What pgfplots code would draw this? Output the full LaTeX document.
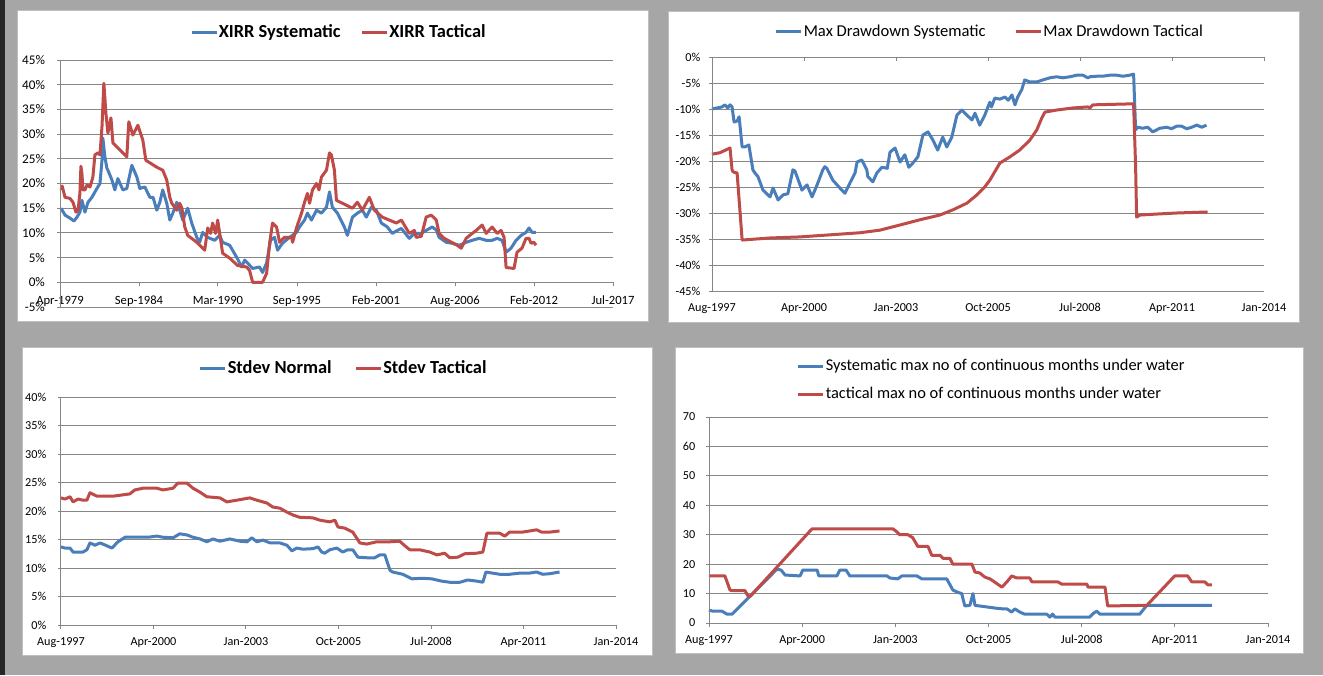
\documentclass[border=0pt]{standalone}
\usepackage{fontspec}
\setmainfont{Carlito}
\usepackage{pgfplots}
\pgfplotsset{compat=1.18}

\definecolor{xlblue}{HTML}{4A7EBB}
\definecolor{xlred}{HTML}{BE4B48}
\definecolor{gridgray}{HTML}{868686}
\definecolor{sheetgray}{HTML}{A6A6A6}
\definecolor{panelgray}{HTML}{BFBFBF}
\definecolor{strip}{HTML}{262626}

\pgfplotsset{
  xlpanel/.style={
    scale only axis, anchor=south west, clip=false,
    axis line style={draw=none},
    ymajorgrids, grid style={gridgray, line width=0.5pt},
    tick pos=left, tick align=outside, major tick length=1.5pt,
    ytick style={gridgray, line width=0.5pt},
    xtick style={draw=none},
    /pgf/number format/assume math mode=true,
    every tick label/.append style={text=black},
    legend style={draw=none, fill=none, inner sep=0pt, outer sep=0pt,
      anchor=west, nodes={inner sep=0.4pt}},
    legend cell align=left,
    legend image code/.code={\draw[##1, line width=1.5pt] (0pt,0pt) -- (12.5pt,0pt);},
    every axis plot/.append style={line width=1.5pt, line join=round},
  },
  dates97/.style={
    xmin=1997.583, xmax=2014.011,
    xtick={1997.583,2000.321,2003.059,2005.797,2008.535,2011.273,2014.011},
    xticklabels={Aug-1997,Apr-2000,Jan-2003,Oct-2005,Jul-2008,Apr-2011,Jan-2014},
  },
}

\begin{document}
\begin{tikzpicture}
\useasboundingbox (0,0) rectangle (661.5pt,-337.5pt);
\fill[sheetgray] (0,0) rectangle (661.5pt,-337.5pt);
\fill[strip] (0,0) rectangle (2.5pt,-337.5pt);
\filldraw[fill=white, draw=panelgray, line width=0.5pt] (8.5pt,-5pt) rectangle (324pt,-160.5pt);
\filldraw[fill=white, draw=panelgray, line width=0.5pt] (334pt,-5.5pt) rectangle (649.5pt,-161pt);
\filldraw[fill=white, draw=panelgray, line width=0.5pt] (11pt,-173.5pt) rectangle (326pt,-327.5pt);
\filldraw[fill=white, draw=panelgray, line width=0.5pt] (337.5pt,-173.5pt) rectangle (651.5pt,-326.5pt);

% XIRR
\begin{axis}[xlpanel,
  at={(30pt,-153.5pt)}, width=276.5pt, height=123.5pt,
  xmin=1979.25, xmax=2017.58, ymin=-5, ymax=45,
  ytick={-5,0,5,10,15,20,25,30,35,40,45},
  yticklabel={\pgfmathprintnumber{\tick}\%},
  xtick={1979.25,1984.726,1990.201,1995.677,2001.153,2006.629,2012.104,2017.58},
  xticklabels={Apr-1979,Sep-1984,Mar-1990,Sep-1995,Feb-2001,Aug-2006,Feb-2012,Jul-2017},
  xticklabel style={font=\fontsize{6.3}{7}\selectfont, yshift=10.5pt},
  yticklabel style={font=\fontsize{6.6}{7}\selectfont, xshift=-2.5pt},
  legend style={at={(0.2351,1.113)}, font=\fontsize{9.2}{11}\selectfont\bfseries, legend columns=2,
    /tikz/every even column/.append style={column sep=9.5pt}},
]
\addplot[xlblue] coordinates {
(1979.32,15.0) (1979.60,13.6) (1979.94,13.0) (1980.22,12.4) (1980.43,13.2) (1980.63,14.2)
(1980.77,16.6) (1980.98,14.2) (1981.19,16.2) (1981.46,17.2) (1981.81,19.0) (1982.02,20.0)
(1982.16,24.7) (1982.22,29.2) (1982.36,25.4) (1982.50,23.1) (1982.57,22.7) (1982.85,20.7)
(1983.05,18.7) (1983.26,21.0) (1983.61,18.7) (1983.88,19.0) (1984.23,23.7) (1984.58,21.3)
(1984.78,19.0) (1985.13,19.3) (1985.48,17.2) (1985.70,17.2) (1985.96,14.6) (1986.17,16.2)
(1986.37,18.7) (1986.65,16.0) (1986.86,12.6) (1987.07,14.0) (1987.34,16.2) (1987.55,14.6)
(1987.76,12.6) (1988.10,15.0) (1988.38,12.0) (1988.73,9.1) (1988.93,8.1) (1989.14,10.1)
(1989.49,9.1) (1989.97,8.5) (1990.32,9.5) (1990.52,8.1) (1991.01,7.5) (1991.49,5.1)
(1991.84,3.1) (1992.05,4.5) (1992.25,3.9) (1992.60,2.8) (1993.08,3.1) (1993.29,2.0)
(1993.57,3.9) (1993.84,8.5) (1994.12,9.1) (1994.33,6.5) (1994.67,7.9) (1995.16,9.1)
(1995.64,10.1) (1995.85,11.2) (1996.20,12.6) (1996.40,14.0) (1996.68,12.6) (1997.03,14.6)
(1997.37,14.0) (1997.72,15.2) (1997.93,18.3) (1998.13,15.2) (1998.48,14.0) (1998.96,11.2)
(1999.17,9.5) (1999.52,13.2) (1999.86,14.0) (2000.21,14.6) (2000.48,13.2) (2000.83,15.2)
(2001.18,14.6) (2001.52,12.0) (2001.94,11.2) (2002.28,9.9) (2002.63,10.5) (2002.91,10.9)
(2003.46,8.9) (2003.81,9.9) (2004.29,9.9) (2004.63,10.5) (2005.05,11.2) (2005.33,10.6)
(2005.53,9.1) (2006.02,8.1) (2006.43,7.9) (2006.92,7.5) (2007.40,8.1) (2007.82,8.5)
(2008.30,8.9) (2008.79,8.5) (2009.20,8.5) (2009.55,8.9) (2009.89,8.5) (2010.17,6.1)
(2010.51,6.9) (2010.86,8.5) (2011.21,9.5) (2011.55,10.1) (2011.76,11.0) (2011.97,10.1)
(2012.24,10.1)
};
\addplot[xlred] coordinates {
(1979.32,18.7) (1979.40,19.5) (1979.60,17.2) (1979.94,17.0) (1980.15,16.2) (1980.36,14.2)
(1980.50,14.6) (1980.63,18.0) (1980.70,23.5) (1980.77,22.0) (1980.84,18.7) (1980.98,18.7)
(1981.12,19.7) (1981.33,19.3) (1981.53,21.3) (1981.67,25.8) (1981.88,26.2) (1982.02,25.8)
(1982.16,31.5) (1982.29,40.3) (1982.43,34.3) (1982.57,30.2) (1982.78,33.3) (1982.92,28.2)
(1983.88,25.4) (1984.02,32.5) (1984.30,29.8) (1984.65,31.8) (1984.99,28.8) (1985.20,24.7)
(1985.96,23.3) (1986.37,22.7) (1986.65,20.7) (1986.86,17.2) (1987.00,16.0) (1987.34,14.6)
(1987.55,16.0) (1987.70,15.0) (1987.90,11.2) (1988.10,9.5) (1988.73,8.1) (1989.28,6.5)
(1989.49,11.0) (1989.69,9.9) (1989.83,12.0) (1990.04,9.9) (1990.18,12.6) (1990.39,8.5)
(1990.52,5.9) (1991.01,4.9) (1991.56,3.4) (1992.18,3.1) (1992.39,2.4) (1992.60,0.0)
(1993.29,0.0) (1993.57,1.8) (1993.78,7.9) (1993.98,12.0) (1994.26,11.2) (1994.47,8.1)
(1994.81,9.1) (1995.30,9.1) (1995.37,8.1) (1995.64,11.0) (1995.99,14.0) (1996.20,16.2)
(1996.40,18.0) (1996.55,16.0) (1996.75,18.7) (1997.03,20.0) (1997.20,18.7) (1997.37,21.3)
(1997.72,22.7) (1997.93,26.2) (1998.06,25.8) (1998.27,22.7) (1998.41,16.6) (1999.52,15.0)
(1999.86,16.2) (2000.21,14.6) (2000.69,17.2) (2001.04,14.6) (2001.59,13.2) (2002.56,12.0)
(2002.91,12.6) (2003.46,9.9) (2003.81,10.5) (2003.94,9.1) (2004.29,9.3) (2004.63,13.2)
(2004.98,13.6) (2005.33,12.6) (2005.53,9.9) (2005.88,8.9) (2006.78,7.5) (2007.06,6.9)
(2007.40,8.9) (2007.82,9.9) (2008.10,10.5) (2008.51,11.6) (2008.79,9.9) (2009.20,11.2)
(2009.55,9.9) (2009.82,10.5) (2010.03,9.1) (2010.17,3.0) (2010.72,2.8) (2010.93,6.1)
(2011.27,6.9) (2011.55,8.9) (2011.76,8.9) (2011.90,7.9) (2012.10,8.1) (2012.24,7.5)
};
\legend{XIRR Systematic, XIRR Tactical}
\draw[gridgray, line width=0.5pt] (rel axis cs:0,0) -- (rel axis cs:0,1);
\pgfplotsinvokeforeach{1979.25,1984.726,1990.201,1995.677,2001.153,2006.629,2012.104,2017.58}{
  \draw[gridgray, line width=0.5pt] (axis cs:#1,0) -- ++(0pt,-2pt);}
\end{axis}

% Max drawdown
\begin{axis}[xlpanel, dates97,
  at={(356pt,-145.5pt)}, width=276pt, height=117pt,
  ymin=-45, ymax=0,
  ytick={-45,-40,-35,-30,-25,-20,-15,-10,-5,0},
  yticklabel={\pgfmathprintnumber{\tick}\%},
  every tick label/.append style={font=\fontsize{6.1}{7}\selectfont},
  xticklabel style={yshift=-1.2pt},
  yticklabel style={xshift=-0.8pt},
  legend style={at={(0.1141,1.107)}, font=\fontsize{8.3}{10}\selectfont, legend columns=2,
    /tikz/every even column/.append style={column sep=14pt}},
]
\addplot[xlblue] coordinates {
(1997.58,-10.0) (1997.88,-9.6) (1997.97,-9.2) (1998.05,-9.8) (1998.12,-9.2) (1998.18,-9.6)
(1998.24,-12.5) (1998.33,-12.3) (1998.39,-11.5) (1998.48,-17.3) (1998.56,-17.3) (1998.68,-16.9)
(1998.80,-21.7) (1998.86,-22.3) (1998.95,-23.0) (1999.10,-25.6) (1999.31,-26.9) (1999.40,-25.2)
(1999.55,-27.5) (1999.70,-26.5) (1999.84,-26.3) (1999.99,-21.7) (2000.05,-21.9) (2000.26,-25.6)
(2000.41,-24.6) (2000.56,-26.9) (2000.71,-24.6) (2000.88,-21.7) (2000.94,-21.1) (2001.00,-21.4)
(2001.18,-23.7) (2001.39,-25.2) (2001.54,-26.2) (2001.69,-24.2) (2001.84,-22.3) (2001.90,-20.2)
(2002.04,-19.8) (2002.19,-21.7) (2002.22,-23.0) (2002.37,-24.0) (2002.49,-22.3) (2002.64,-21.2)
(2002.80,-21.4) (2002.88,-18.3) (2003.03,-17.5) (2003.18,-20.2) (2003.32,-18.8) (2003.44,-21.2)
(2003.56,-20.4) (2003.71,-19.2) (2003.86,-15.0) (2004.01,-14.4) (2004.16,-16.0) (2004.30,-17.9)
(2004.45,-15.4) (2004.57,-17.3) (2004.72,-15.4) (2004.87,-11.2) (2005.02,-10.2) (2005.17,-11.2)
(2005.32,-12.1) (2005.41,-10.8) (2005.55,-13.1) (2005.70,-11.2) (2005.85,-8.7) (2005.90,-9.6)
(2006.00,-7.9) (2006.15,-8.1) (2006.30,-7.7) (2006.40,-8.3) (2006.51,-7.3) (2006.60,-9.2)
(2006.68,-7.7) (2006.80,-6.3) (2006.89,-4.4) (2007.04,-4.8) (2007.25,-4.8) (2007.43,-4.4)
(2007.64,-4.0) (2007.84,-3.8) (2008.02,-4.0) (2008.23,-3.8) (2008.44,-3.5) (2008.62,-3.5)
(2008.77,-4.0) (2008.83,-3.8) (2009.03,-3.7) (2009.21,-3.7) (2009.42,-3.5) (2009.63,-3.5)
(2009.81,-3.7) (2010.01,-3.5) (2010.13,-3.3) (2010.19,-14.0) (2010.25,-13.5) (2010.40,-13.7)
(2010.55,-13.5) (2010.70,-14.4) (2010.91,-13.7) (2011.12,-13.5) (2011.26,-13.8) (2011.41,-13.3)
(2011.56,-13.3) (2011.71,-13.8) (2011.86,-13.5) (2012.01,-13.1) (2012.16,-13.5) (2012.30,-13.1)
};
\addplot[xlred] coordinates {
(1997.58,-18.7) (1997.82,-18.4) (1998.12,-17.5) (1998.18,-21.7) (1998.21,-22.1) (1998.33,-22.3)
(1998.48,-35.2) (1999.31,-34.8) (2000.20,-34.6) (2001.09,-34.2) (2001.98,-33.8) (2002.58,-33.3)
(2003.18,-32.3) (2003.77,-31.3) (2004.36,-30.4) (2004.75,-29.4) (2005.17,-28.1) (2005.47,-26.5)
(2005.70,-25.0) (2005.85,-23.7) (2006.15,-20.4) (2006.45,-19.2) (2006.74,-17.9) (2007.04,-16.0)
(2007.25,-14.0) (2007.40,-11.7) (2007.49,-10.6) (2007.84,-10.2) (2008.32,-9.8) (2008.77,-9.6)
(2008.83,-9.8) (2008.92,-9.2) (2009.51,-9.1) (2010.13,-9.0) (2010.19,-21.1) (2010.22,-30.8)
(2010.31,-30.4) (2010.82,-30.2) (2011.41,-30.0) (2012.33,-29.8)
};
\legend{Max Drawdown Systematic, Max Drawdown Tactical}
\draw[gridgray, line width=0.5pt] (rel axis cs:0,0) -- (rel axis cs:0,1);
\pgfplotsinvokeforeach{2000.321,2003.059,2005.797,2008.535,2011.273,2014.011}{
  \draw[gridgray, line width=0.5pt] (axis cs:#1,0) -- ++(0pt,-2pt);}
\end{axis}

% Stdev
\begin{axis}[xlpanel, dates97,
  at={(30.5pt,-312.5pt)}, width=277.5pt, height=114pt,
  ymin=0, ymax=40,
  ytick={0,5,10,15,20,25,30,35,40},
  yticklabel={\pgfmathprintnumber{\tick}\%},
  every tick label/.append style={font=\fontsize{6.1}{7}\selectfont},
  xticklabel style={yshift=-1.2pt},
  yticklabel style={xshift=-2.3pt},
  legend style={at={(0.2486,1.127)}, font=\fontsize{9.2}{11}\selectfont\bfseries, legend columns=2,
    /tikz/every even column/.append style={column sep=11pt}},
]
\addplot[xlblue] coordinates {
(1997.58,13.7) (1997.70,13.5) (1997.85,13.5) (1997.94,12.8) (1998.09,12.8) (1998.23,12.8)
(1998.35,13.2) (1998.44,14.4) (1998.59,14.0) (1998.74,14.4) (1998.90,14.0) (1999.09,13.5)
(1999.27,14.6) (1999.48,15.4) (1999.68,15.4) (1999.92,15.4) (2000.16,15.4) (2000.42,15.6)
(2000.60,15.4) (2000.90,15.3) (2001.10,16.0) (2001.31,15.8) (2001.49,15.4) (2001.70,15.1)
(2001.90,14.6) (2002.08,15.1) (2002.29,14.7) (2002.58,15.1) (2002.88,14.7) (2003.09,14.6)
(2003.23,15.3) (2003.38,14.6) (2003.56,14.9) (2003.77,14.4) (2004.06,14.4) (2004.27,14.0)
(2004.42,13.0) (2004.56,13.5) (2004.74,13.3) (2005.04,13.4) (2005.19,13.7) (2005.30,12.8)
(2005.39,12.6) (2005.54,13.2) (2005.75,13.5) (2005.92,12.8) (2006.07,13.2) (2006.22,13.2)
(2006.37,11.9) (2006.63,11.8) (2006.87,11.8) (2007.02,12.3) (2007.17,12.3) (2007.32,9.6)
(2007.40,9.3) (2007.70,8.9) (2007.97,8.1) (2008.26,8.2) (2008.56,8.1) (2008.85,7.7)
(2009.09,7.5) (2009.39,7.5) (2009.62,7.9) (2009.89,7.7) (2010.07,7.5) (2010.16,9.3)
(2010.36,9.1) (2010.57,8.9) (2010.86,8.9) (2011.16,9.1) (2011.45,9.1) (2011.66,9.3)
(2011.84,8.9) (2012.05,9.0) (2012.34,9.3)
};
\addplot[xlred] coordinates {
(1997.58,22.3) (1997.70,22.1) (1997.85,22.5) (1997.94,21.6) (1998.09,22.1) (1998.23,21.9)
(1998.35,21.9) (1998.44,23.2) (1998.65,22.6) (1999.12,22.6) (1999.62,23.0) (1999.77,23.7)
(2000.01,24.0) (2000.42,24.0) (2000.60,23.7) (2000.90,24.0) (2001.04,24.9) (2001.31,24.9)
(2001.49,24.0) (2001.70,23.3) (2001.90,22.5) (2002.29,22.3) (2002.49,21.6) (2002.79,21.9)
(2003.17,22.3) (2003.38,21.9) (2003.68,21.4) (2003.85,20.7) (2004.06,20.5) (2004.27,19.8)
(2004.45,19.3) (2004.65,18.9) (2005.04,18.8) (2005.24,18.4) (2005.54,18.1) (2005.69,18.4)
(2005.78,17.2) (2005.98,17.0) (2006.22,16.3) (2006.43,14.4) (2006.63,14.2) (2006.93,14.6)
(2007.32,14.6) (2007.61,14.7) (2007.76,13.9) (2007.91,13.2) (2008.20,13.2) (2008.50,12.8)
(2008.71,12.3) (2008.94,12.6) (2009.09,11.8) (2009.33,11.9) (2009.53,12.5) (2009.89,12.6)
(2010.07,12.8) (2010.19,16.1) (2010.57,16.1) (2010.72,15.6) (2010.86,16.3) (2011.25,16.3)
(2011.66,16.7) (2011.81,16.3) (2012.05,16.3) (2012.34,16.5)
};
\legend{Stdev Normal, Stdev Tactical}
\draw[gridgray, line width=0.5pt] (rel axis cs:0,0) -- (rel axis cs:0,1);
\pgfplotsinvokeforeach{1997.583,2000.321,2003.059,2005.797,2008.535,2011.273,2014.011}{
  \draw[gridgray, line width=0.5pt] (axis cs:#1,0) -- ++(0pt,-2pt);}
\end{axis}

% Months under water
\begin{axis}[xlpanel, dates97,
  at={(354.5pt,-311.5pt)}, width=279.5pt, height=103pt,
  ymin=0, ymax=70,
  ytick={0,10,20,30,40,50,60,70},
  every tick label/.append style={font=\fontsize{6.1}{7}\selectfont},
  xticklabel style={yshift=-1.2pt},
  yticklabel style={xshift=-1.8pt},
  legend style={at={(0.1574,1.177)}, font=\fontsize{8.2}{10}\selectfont, legend columns=1,
    row sep=6pt},
]
\addplot[xlblue] coordinates {
(1997.58,4.4) (1997.70,4) (1997.97,4) (1998.11,3) (1998.26,3) (1999.58,18.3) (1999.70,18)
(1999.82,16.3) (2000.26,16) (2000.34,18) (2000.76,18) (2000.81,16) (2001.34,16) (2001.43,18)
(2001.61,18) (2001.72,16) (2002.81,16) (2002.90,15.3) (2003.13,15) (2003.25,16) (2003.69,16)
(2003.84,15) (2004.57,15) (2004.75,11.2) (2004.90,10.4) (2005.01,10) (2005.10,5.8) (2005.25,6)
(2005.34,10) (2005.40,6) (2006.04,5) (2006.22,4.8) (2006.34,4.8) (2006.48,3.7) (2006.57,4.8)
(2006.72,3.7) (2006.86,3) (2007.51,3) (2007.60,2) (2007.68,3) (2007.75,2) (2008.77,2)
(2008.89,3.4) (2008.98,4) (2009.07,3) (2010.24,3) (2010.45,6) (2012.36,6)
};
\addplot[xlred] coordinates {
(1997.58,16) (1998.05,16) (1998.20,11.2) (1998.26,11) (1998.64,11) (1998.73,9.2) (1998.79,9)
(2000.61,32) (2002.99,32) (2003.10,31) (2003.19,30) (2003.43,30) (2003.57,29) (2003.72,26)
(2004.02,26) (2004.13,23) (2004.37,23) (2004.46,22) (2004.66,22) (2004.75,20) (2005.31,20)
(2005.40,17.3) (2005.54,17) (2005.69,15.6) (2005.84,15) (2005.98,13.9) (2006.19,12.2)
(2006.34,14) (2006.48,16) (2006.63,15.3) (2007.01,15.3) (2007.07,14) (2007.83,14)
(2007.95,13.2) (2008.69,13.2) (2008.72,12.2) (2009.22,12.2) (2009.30,5.8) (2010.45,6)
(2011.27,16) (2011.65,16) (2011.77,14) (2012.15,14) (2012.24,13) (2012.36,13)
};
\legend{Systematic max no of continuous months under water, tactical max no of continuous months under water}
\draw[gridgray, line width=0.5pt] (rel axis cs:0,0) -- (rel axis cs:0,1);
\pgfplotsinvokeforeach{1997.583,2000.321,2003.059,2005.797,2008.535,2011.273,2014.011}{
  \draw[gridgray, line width=0.5pt] (axis cs:#1,0) -- ++(0pt,-2pt);}
\end{axis}
\end{tikzpicture}
\end{document}
